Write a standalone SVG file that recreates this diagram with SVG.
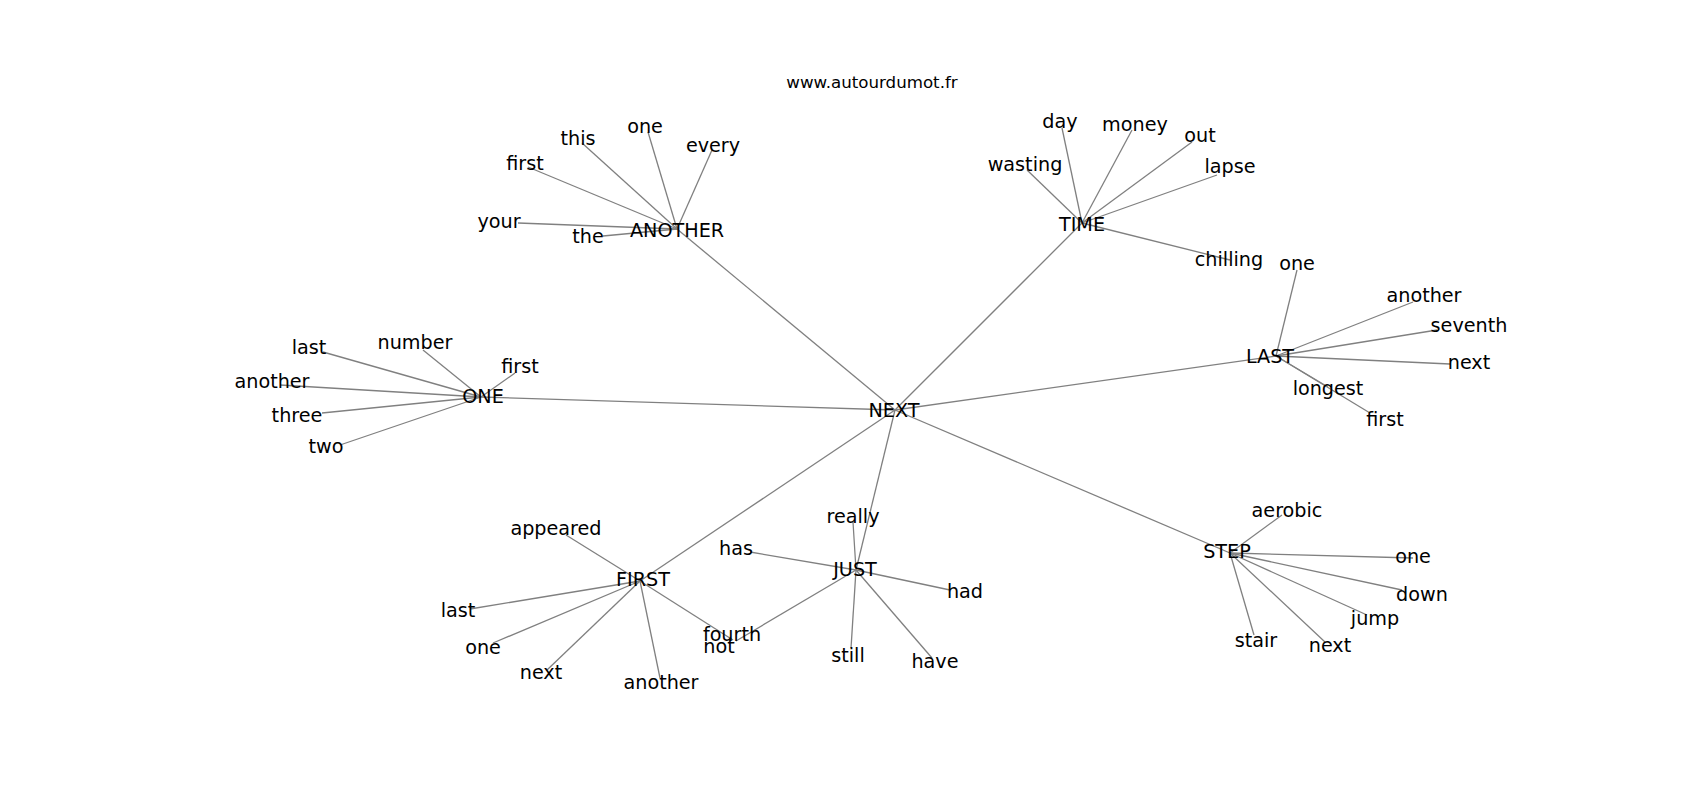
<svg xmlns="http://www.w3.org/2000/svg" width="1700" height="800" viewBox="0 0 1700 800">
<style>
text{font-family:"DejaVu Sans","Liberation Sans",sans-serif;font-size:19.2px;fill:#000;text-anchor:middle}
.title{font-size:16.67px}
#edges line{stroke:#808080;stroke-width:1.3}
</style>
<rect width="1700" height="800" fill="#fff"/>
<g id="edges">
<line x1="895" y1="410" x2="677" y2="229"/>
<line x1="895" y1="410" x2="1082" y2="223"/>
<line x1="895" y1="410" x2="1276" y2="356"/>
<line x1="895" y1="410" x2="481" y2="397"/>
<line x1="895" y1="410" x2="1230" y2="553"/>
<line x1="895" y1="410" x2="856" y2="570"/>
<line x1="895" y1="410" x2="640" y2="581"/>
<line x1="677" y1="229" x2="518" y2="223"/>
<line x1="677" y1="229" x2="603" y2="236"/>
<line x1="677" y1="229" x2="528" y2="167"/>
<line x1="677" y1="229" x2="582" y2="143"/>
<line x1="677" y1="229" x2="648" y2="132"/>
<line x1="677" y1="229" x2="712" y2="150"/>
<line x1="1082" y1="223" x2="1062" y2="128"/>
<line x1="1082" y1="223" x2="1132" y2="130"/>
<line x1="1082" y1="223" x2="1192" y2="142"/>
<line x1="1082" y1="223" x2="1027" y2="170"/>
<line x1="1082" y1="223" x2="1217" y2="175"/>
<line x1="1082" y1="223" x2="1230" y2="260"/>
<line x1="1276" y1="356" x2="1297" y2="270"/>
<line x1="1276" y1="356" x2="1413" y2="302"/>
<line x1="1276" y1="356" x2="1437" y2="330"/>
<line x1="1276" y1="356" x2="1450" y2="364"/>
<line x1="1276" y1="356" x2="1328" y2="387"/>
<line x1="1276" y1="356" x2="1370" y2="413"/>
<line x1="481" y1="397" x2="323" y2="352"/>
<line x1="481" y1="397" x2="423" y2="350"/>
<line x1="481" y1="397" x2="515" y2="373"/>
<line x1="481" y1="397" x2="280" y2="385"/>
<line x1="481" y1="397" x2="322" y2="413"/>
<line x1="481" y1="397" x2="340" y2="445"/>
<line x1="640" y1="581" x2="566" y2="535"/>
<line x1="640" y1="581" x2="470" y2="609"/>
<line x1="640" y1="581" x2="493" y2="643"/>
<line x1="640" y1="581" x2="547" y2="670"/>
<line x1="640" y1="581" x2="660" y2="678"/>
<line x1="640" y1="581" x2="733" y2="640"/>
<line x1="856" y1="570" x2="750" y2="552"/>
<line x1="856" y1="570" x2="853" y2="522"/>
<line x1="856" y1="570" x2="950" y2="590"/>
<line x1="856" y1="570" x2="851" y2="648"/>
<line x1="856" y1="570" x2="932" y2="658"/>
<line x1="856" y1="570" x2="736" y2="641"/>
<line x1="1230" y1="553" x2="1282" y2="515"/>
<line x1="1230" y1="553" x2="1413" y2="558"/>
<line x1="1230" y1="553" x2="1402" y2="590"/>
<line x1="1230" y1="553" x2="1367" y2="615"/>
<line x1="1230" y1="553" x2="1254" y2="635"/>
<line x1="1230" y1="553" x2="1325" y2="642"/>
</g>
<text class="title" x="872" y="88">www.autourdumot.fr</text>
<g id="n-NEXT"><text x="894" y="417">NEXT</text></g>
<g id="n-ANOTHER"><text x="677" y="237">ANOTHER</text></g>
<g id="n-TIME"><text x="1082" y="231">TIME</text></g>
<g id="n-LAST"><text x="1270" y="363">LAST</text></g>
<g id="n-ONE"><text x="483" y="403">ONE</text></g>
<g id="n-FIRST"><text x="643" y="586">FIRST</text></g>
<g id="n-JUST"><text x="855" y="576">JUST</text></g>
<g id="n-STEP"><text x="1227" y="558">STEP</text></g>
<g id="n-another-your"><text x="499" y="228">your</text></g>
<g id="n-another-the"><text x="588" y="243">the</text></g>
<g id="n-another-first"><text x="525" y="170">first</text></g>
<g id="n-another-this"><text x="578" y="145">this</text></g>
<g id="n-another-one"><text x="645" y="133">one</text></g>
<g id="n-another-every"><text x="713" y="152">every</text></g>
<g id="n-time-day"><text x="1060" y="128">day</text></g>
<g id="n-time-money"><text x="1135" y="131">money</text></g>
<g id="n-time-out"><text x="1200" y="142">out</text></g>
<g id="n-time-wasting"><text x="1025" y="171">wasting</text></g>
<g id="n-time-lapse"><text x="1230" y="173">lapse</text></g>
<g id="n-time-chilling"><text x="1229" y="266">chilling</text></g>
<g id="n-last-one"><text x="1297" y="270">one</text></g>
<g id="n-last-another"><text x="1424" y="302">another</text></g>
<g id="n-last-seventh"><text x="1469" y="332">seventh</text></g>
<g id="n-last-next"><text x="1469" y="369">next</text></g>
<g id="n-last-longest"><text x="1328" y="395">longest</text></g>
<g id="n-last-first"><text x="1385" y="426">first</text></g>
<g id="n-one-last"><text x="309" y="354">last</text></g>
<g id="n-one-number"><text x="415" y="349">number</text></g>
<g id="n-one-first"><text x="520" y="373">first</text></g>
<g id="n-one-another"><text x="272" y="388">another</text></g>
<g id="n-one-three"><text x="297" y="422">three</text></g>
<g id="n-one-two"><text x="326" y="453">two</text></g>
<g id="n-first-appeared"><text x="556" y="535">appeared</text></g>
<g id="n-first-last"><text x="458" y="617">last</text></g>
<g id="n-first-one"><text x="483" y="654">one</text></g>
<g id="n-first-next"><text x="541" y="679">next</text></g>
<g id="n-first-another"><text x="661" y="689">another</text></g>
<g id="n-first-fourth"><text x="732" y="641">fourth</text></g>
<g id="n-just-has"><text x="736" y="555">has</text></g>
<g id="n-just-really"><text x="853" y="523">really</text></g>
<g id="n-just-had"><text x="965" y="598">had</text></g>
<g id="n-just-still"><text x="848" y="662">still</text></g>
<g id="n-just-have"><text x="935" y="668">have</text></g>
<g id="n-just-not"><text x="719" y="653">not</text></g>
<g id="n-step-aerobic"><text x="1287" y="517">aerobic</text></g>
<g id="n-step-one"><text x="1413" y="563">one</text></g>
<g id="n-step-down"><text x="1422" y="601">down</text></g>
<g id="n-step-jump"><text x="1375" y="625">jump</text></g>
<g id="n-step-stair"><text x="1256" y="647">stair</text></g>
<g id="n-step-next"><text x="1330" y="652">next</text></g>
</svg>
